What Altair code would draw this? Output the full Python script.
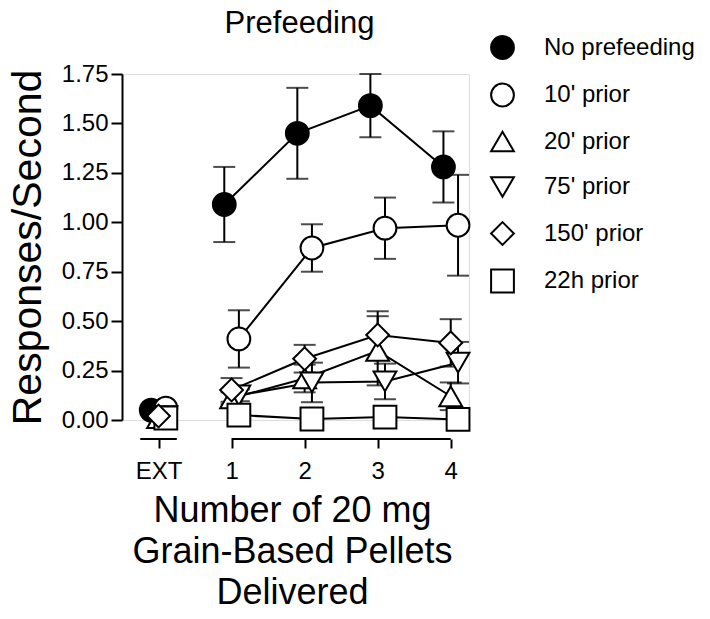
import altair as alt
import pandas as pd

# ---- data ----
series = ["No prefeeding", "10' prior", "20' prior", "75' prior", "150' prior", "22h prior"]
x_levels = [0, 1, 2, 3, 4]          # 0 = EXT
x_labels = ["EXT", "1", "2", "3", "4"]

means = {
    "No prefeeding": [0.05, 1.09, 1.45, 1.59, 1.28],
    "10' prior":     [0.06, 0.41, 0.87, 0.97, 0.985],
    "20' prior":     [0.01, 0.11, 0.21, 0.35, 0.12],
    "75' prior":     [0.02, 0.125, 0.19, 0.195, 0.29],
    "150' prior":    [0.02, 0.152, 0.31, 0.43, 0.39],
    "22h prior":     [0.01, 0.025, 0.005, 0.015, 0.003],
}
sems = {
    "No prefeeding": [0.01, 0.19, 0.23, 0.16, 0.18],
    "10' prior":     [0.01, 0.145, 0.12, 0.155, 0.255],
    "20' prior":     [0.01, 0.03, 0.07, 0.175, 0.07],
    "75' prior":     [0.01, 0.03, 0.10, 0.09, 0.105],
    "150' prior":    [0.01, 0.06, 0.07, 0.12, 0.12],
    "22h prior":     [0.005, 0.03, 0.02, 0.02, 0.02],
}
# small horizontal nudges (in x units) used in the original to separate groups
nudge = {"No prefeeding": -0.1, "10' prior": 0.1, "20' prior": 0.0,
         "75' prior": 0.1, "150' prior": 0.0, "22h prior": 0.1}

shapes = ["circle", "circle", "triangle-up", "triangle-down", "diamond", "square"]
fills = ["black", "white", "white", "white", "white", "white"]
sizes = [520, 520, 620, 620, 770, 520]

draw_order = ["No prefeeding", "10' prior", "20' prior", "75' prior", "22h prior", "150' prior"]

rows = []
for s in draw_order:
    for i, xv in enumerate(x_levels):
        m = means[s][i]
        e = sems[s][i]
        rows.append({"series": s, "x": xv, "xp": xv + nudge[s], "y": m,
                     "lo": m - e, "hi": m + e, "order": draw_order.index(s)})
df = pd.DataFrame(rows)
df_line = df[df["x"] >= 1]

axis_segments = pd.DataFrame({"a": [-0.25, 1.0], "b": [0.25, 4.0]})

FONT = "Liberation Sans"
W, H = 347, 346
X_OFF = 19

xscale = alt.Scale(domain=[-0.5, 4.25], nice=False, zero=False)
yscale = alt.Scale(domain=[0, 1.75], nice=False, zero=False)

label_expr = "datum.value == 0 ? 'EXT' : format(datum.value, 'd')"

xenc = alt.X("xp:Q", scale=xscale,
             axis=alt.Axis(values=x_levels, labelExpr=label_expr, domain=False,
                           offset=X_OFF, grid=False, tickSize=9, tickWidth=2,
                           tickColor="black", labelFontSize=24, labelFont=FONT,
                           labelColor="black", labelPadding=11,
                           title=["Number of 20 mg", "Grain-Based Pellets", "Delivered"],
                           titleFontSize=36, titleFont=FONT, titleFontWeight="normal",
                           titleColor="black", titleLineHeight=41,
                           titleBaseline="alphabetic", titleY=82, titleX=170))
yenc = alt.Y("y:Q", scale=yscale,
             axis=alt.Axis(values=[0, 0.25, 0.5, 0.75, 1.0, 1.25, 1.5, 1.75],
                           format=".2f", grid=False, domainColor="black", domainWidth=2,
                           tickSize=11, tickWidth=2, tickColor="black",
                           labelFontSize=24, labelFont=FONT, labelColor="black",
                           labelPadding=3, title="Responses/Second",
                           titleFontSize=41, titleFont=FONT, titleFontWeight="normal",
                           titleColor="black", titleAngle=270, titleBaseline="alphabetic",
                           titleX=-82, titleY=H / 2))

base = alt.Chart(df)

err_rule = base.mark_rule(color="black", strokeWidth=2).encode(
    x=alt.X("xp:Q", scale=xscale), y=alt.Y("lo:Q", scale=yscale), y2="hi:Q")
cap_lo = base.mark_tick(color="black", thickness=2, size=22, orient="horizontal").encode(
    x=alt.X("xp:Q", scale=xscale), y=alt.Y("lo:Q", scale=yscale))
cap_hi = base.mark_tick(color="black", thickness=2, size=22, orient="horizontal").encode(
    x=alt.X("xp:Q", scale=xscale), y=alt.Y("hi:Q", scale=yscale))

lines = alt.Chart(df_line).mark_line(color="black", strokeWidth=2).encode(
    x=alt.X("xp:Q", scale=xscale), y=alt.Y("y:Q", scale=yscale),
    detail="series:N", order="x:Q")

legend = alt.Legend(title=None, orient="none", legendX=368, legendY=-39,
                    labelFontSize=24, labelFont=FONT, labelColor="black",
                    labelOffset=29, rowPadding=16.5, symbolStrokeWidth=2,
                    symbolOpacity=1, labelLimit=200)

points = base.mark_point(filled=True, stroke="black", strokeWidth=2, opacity=1).encode(
    x=xenc, y=yenc,
    shape=alt.Shape("series:N", scale=alt.Scale(domain=series, range=shapes), legend=legend),
    fill=alt.Fill("series:N", scale=alt.Scale(domain=series, range=fills), legend=legend),
    stroke=alt.Stroke("series:N", scale=alt.Scale(domain=series, range=["black"] * 6),
                      legend=legend),
    size=alt.Size("series:N", scale=alt.Scale(domain=series, range=sizes), legend=legend),
    order="order:Q",
)

segs = alt.Chart(axis_segments).mark_rule(color="black", strokeWidth=2).encode(
    x=alt.X("a:Q", scale=xscale), x2="b:Q", y=alt.value(H + X_OFF))

chart = alt.layer(err_rule, cap_lo, cap_hi, lines, points, segs).properties(
    width=W, height=H,
    title=alt.Title("Prefeeding", fontSize=31, font=FONT, fontWeight="normal",
                    color="black", anchor="middle", frame="group",
                    baseline="alphabetic", offset=-29, dx=4),
    autosize="none",
    padding={"left": 114, "top": 66, "right": 232, "bottom": 186},
).configure_view(stroke=None).configure(background="white")

chart.save("out.html", embed_options={"renderer": "svg", "actions": False})
